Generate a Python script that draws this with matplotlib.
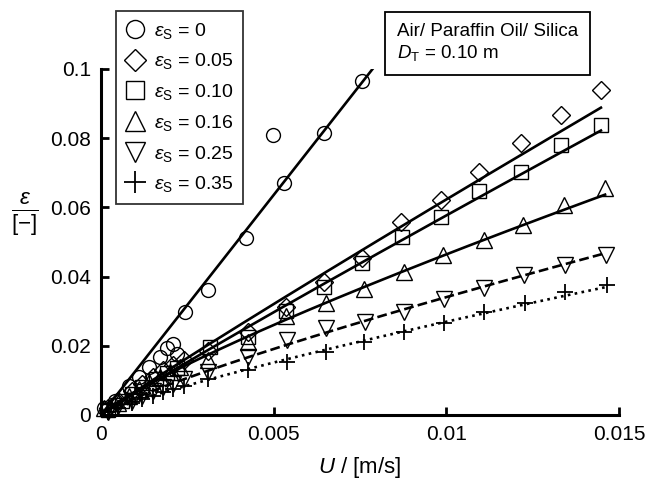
import numpy as np
import matplotlib
matplotlib.use("Agg")
import matplotlib.pyplot as plt

plt.rcParams['font.family'] = ['Liberation Sans', 'DejaVu Sans']
plt.rcParams['mathtext.fontset'] = 'custom'
plt.rcParams['mathtext.rm'] = 'Liberation Sans'
plt.rcParams['mathtext.it'] = 'Liberation Sans:italic'
plt.rcParams['mathtext.bf'] = 'Liberation Sans:bold'

# superficial gas velocity U [m/s] and gas holdup eps [-] per solids loading
u_s0 = [0.0001, 0.0004, 0.0008, 0.0011, 0.0014, 0.0017, 0.0019, 0.0021, 0.0022,
        0.00243, 0.0031, 0.0042, 0.00497, 0.0053, 0.00645, 0.00757]
e_s0 = [0.002, 0.004, 0.0085, 0.011, 0.014, 0.0168, 0.0195, 0.0205, 0.0175,
        0.0298, 0.0361, 0.0512, 0.0809, 0.0671, 0.0815, 0.0965]

u_s05 = [0.0002, 0.0005, 0.0009, 0.0012, 0.0015, 0.0018, 0.0021, 0.0024, 0.0031,
         0.00425, 0.00535, 0.00647, 0.00757, 0.0087, 0.00986, 0.01095, 0.01217,
         0.01332, 0.01448]
e_s05 = [0.002, 0.004, 0.007, 0.009, 0.011, 0.013, 0.0145, 0.016, 0.0185,
         0.024, 0.0312, 0.0384, 0.0454, 0.0558, 0.0621, 0.0702, 0.0786,
         0.0867, 0.0939]

u_s10 = [0.0002, 0.0006, 0.0009, 0.0012, 0.0016, 0.0019, 0.0022, 0.00315,
         0.00425, 0.00537, 0.00647, 0.00757, 0.00873, 0.00986, 0.01095, 0.01217,
         0.01332, 0.01448]
e_s10 = [0.0015, 0.004, 0.006, 0.008, 0.0105, 0.012, 0.0135, 0.0197,
         0.0225, 0.030, 0.037, 0.0439, 0.0514, 0.0572, 0.0647, 0.0702,
         0.078, 0.0838]

u_s16 = [0.0001, 0.0005, 0.0008, 0.0011, 0.0014, 0.0017, 0.0020, 0.0023, 0.0031,
         0.00425, 0.00537, 0.00653, 0.00763, 0.00879, 0.00991, 0.0111, 0.01223,
         0.01341, 0.0146]
e_s16 = [0.002, 0.0035, 0.0055, 0.0075, 0.0095, 0.011, 0.0125, 0.014, 0.016,
         0.021, 0.0285, 0.0324, 0.0364, 0.0413, 0.0462, 0.0506, 0.0549,
         0.0607, 0.0656]

u_s25 = [0.0002, 0.0005, 0.0009, 0.0012, 0.0015, 0.0018, 0.0021, 0.0024, 0.0031,
         0.00425, 0.00538, 0.00653, 0.00766, 0.00879, 0.00994, 0.0111, 0.01225,
         0.01344, 0.01462]
e_s25 = [0.001, 0.0025, 0.004, 0.0055, 0.007, 0.008, 0.009, 0.0105, 0.0124,
         0.0168, 0.0217, 0.0251, 0.0269, 0.0298, 0.0335, 0.0367, 0.0405,
         0.0434, 0.0462]

u_s35 = [0.0002, 0.0005, 0.0009, 0.0012, 0.0015, 0.0018, 0.0021, 0.0024, 0.0031,
         0.00425, 0.00538, 0.00653, 0.00763, 0.00879, 0.00994, 0.0111, 0.01228,
         0.01344, 0.01465]
e_s35 = [0.001, 0.002, 0.0035, 0.0045, 0.0055, 0.0065, 0.0075, 0.0085, 0.0105,
         0.013, 0.0153, 0.0182, 0.0211, 0.024, 0.0266, 0.0298, 0.0324,
         0.0356, 0.0376]

labels = ['0', '0.05', '0.10', '0.16', '0.25', '0.35']
markers = ['o', 'D', 's', '^', 'v', '+']
msizes = [10, 9, 10, 11, 11, 12]
fit_styles = ['-', '-', '-', '-', '--', ':']

xticks = [0, 0.005, 0.01, 0.015]
xticklabels = ['0', '0.005', '0.01', '0.015']
yticks = [0, 0.02, 0.04, 0.06, 0.08, 0.1]
yticklabels = ['0', '0.02', '0.04', '0.06', '0.08', '0.1']

series = [(u_s0, e_s0), (u_s05, e_s05), (u_s10, e_s10),
          (u_s16, e_s16), (u_s25, e_s25), (u_s35, e_s35)]

fig = plt.figure(figsize=(6.49, 4.84), dpi=100)
ax = fig.add_axes([0.1556, 0.1426, 0.798, 0.7149])

handles = []
for (u, e), lab, m, ms, ls in zip(series, labels, markers, msizes, fit_styles):
    u = np.array(u)
    e = np.array(e)
    if lab == '0':
        # no solids: straight line through the origin
        k = np.sum(u * e) / np.sum(u * u)
        uf = np.linspace(0, 0.009, 50)
        ef = k * uf
    else:
        # power-law fit eps = a*U^n
        sel = u >= 0.0015
        n, lna = np.polyfit(np.log(u[sel]), np.log(e[sel]), 1)
        uf = np.linspace(0, u.max(), 200)
        ef = np.exp(lna) * uf ** n
    ax.plot(uf, ef, ls, color='black', lw=1.9)
    h, = ax.plot(u, e, linestyle='none', marker=m, ms=ms, mfc='none',
                 mec='black', mew=1.0 if m != '+' else 1.3, clip_on=False,
                 label=r'$\varepsilon_\mathrm{S}$ = ' + lab)
    handles.append(h)

ax.set_xlim(0, 0.015)
ax.set_ylim(0, 0.1)
ax.set_xticks(xticks)
ax.set_xticklabels(xticklabels)
ax.set_yticks(yticks)
ax.set_yticklabels(yticklabels)
ax.tick_params(direction='in', length=6, width=2, labelsize=15, pad=7)
for s in ['top', 'right']:
    ax.spines[s].set_visible(False)
for s in ['left', 'bottom']:
    ax.spines[s].set_linewidth(2.2)

ax.set_xlabel(r'$U$ / [m/s]', fontsize=16, labelpad=8)
fig.text(25 / 649, 1 - 214 / 484, r'$\frac{\varepsilon}{[-]}$', fontsize=23,
         ha='center', va='center')

leg = fig.legend(handles=handles, loc='upper left',
                 bbox_to_anchor=(116 / 649, 1 - 11 / 484), fontsize=14,
                 frameon=True, fancybox=False, handlelength=1.0,
                 handletextpad=0.45, labelspacing=0.55, borderpad=0.5,
                 borderaxespad=0, markerscale=1.3)
leg.get_frame().set_edgecolor('black')
leg.get_frame().set_linewidth(1.3)

fig.text(397 / 649, 1 - 23 / 484,
         'Air/ Paraffin Oil/ Silica\n' + r'$D_\mathrm{T}$ = 0.10 m',
         fontsize=13.5, ha='left', va='top', linespacing=1.2,
         bbox=dict(boxstyle='square,pad=0.65', fc='white', ec='black', lw=1.3))

fig.savefig('out.png', dpi=100)
